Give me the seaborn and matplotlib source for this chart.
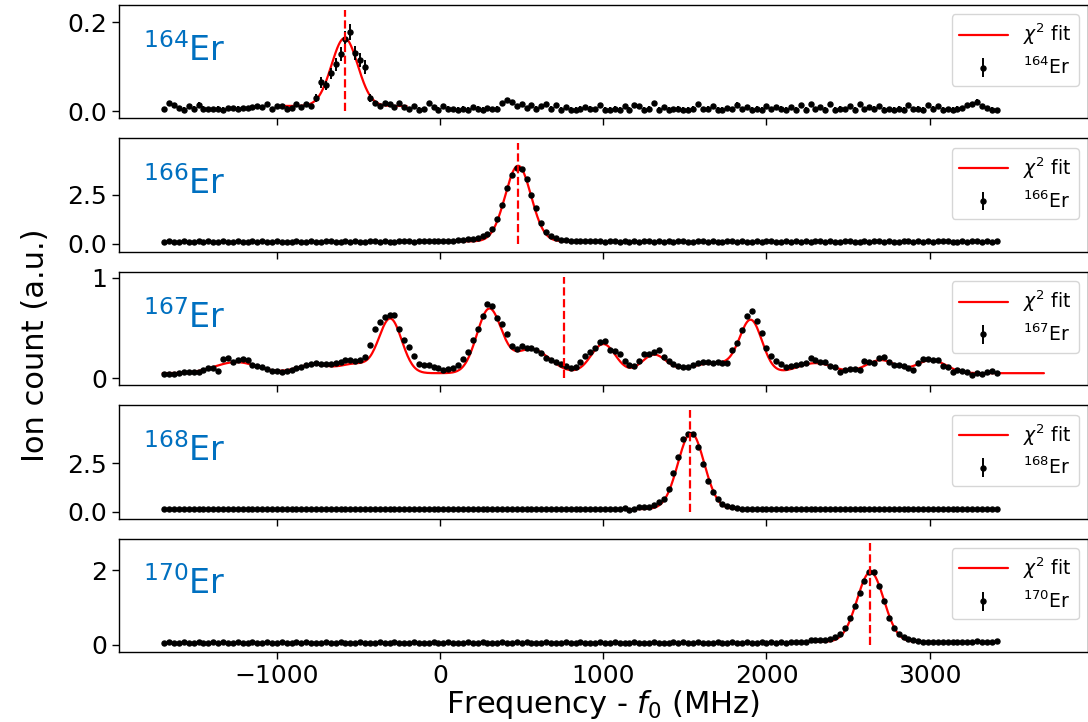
import numpy as np
import pandas as pd
import matplotlib
matplotlib.use("Agg")
import matplotlib.pyplot as plt
import seaborn as sns

# ---------------- data ----------------
# frequency scan: first point, step (MHz), number of points
freq_start, freq_step, n_points = -1690, 30, 171

isotopes = ["164", "166", "167", "168", "170"]

counts_164 = [
    0.005, 0.018, 0.014, 0.008, 0.004, 0.012, 0.006, 0.015, 0.006, 0.005,
    0.005, 0.006, 0.004, 0.008, 0.007, 0.006, 0.007, 0.007, 0.009, 0.012,
    0.010, 0.016, 0.005, 0.012, 0.012, 0.006, 0.008, 0.017, 0.010, 0.016,
    0.012, 0.030, 0.065, 0.058, 0.085, 0.105, 0.128, 0.163, 0.178, 0.130,
    0.115, 0.100, 0.030, 0.018, 0.012, 0.018, 0.017, 0.010, 0.018, 0.010,
    0.005, 0.012, 0.004, 0.005, 0.018, 0.010, 0.004, 0.012, 0.006, 0.005,
    0.004, 0.006, 0.004, 0.010, 0.006, 0.004, 0.008, 0.005, 0.006, 0.018,
    0.025, 0.020, 0.012, 0.016, 0.008, 0.014, 0.006, 0.012, 0.016, 0.006,
    0.014, 0.004, 0.010, 0.004, 0.004, 0.006, 0.010, 0.006, 0.005, 0.014,
    0.004, 0.004, 0.006, 0.004, 0.012, 0.004, 0.014, 0.012, 0.004, 0.006,
    0.018, 0.004, 0.010, 0.004, 0.005, 0.006, 0.004, 0.004, 0.006, 0.016,
    0.005, 0.006, 0.012, 0.004, 0.004, 0.008, 0.005, 0.015, 0.005, 0.010,
    0.004, 0.006, 0.004, 0.012, 0.005, 0.010, 0.006, 0.004, 0.010, 0.004,
    0.014, 0.004, 0.016, 0.005, 0.010, 0.004, 0.016, 0.004, 0.006, 0.005,
    0.012, 0.004, 0.016, 0.005, 0.010, 0.006, 0.012, 0.004, 0.005, 0.004,
    0.006, 0.004, 0.014, 0.005, 0.006, 0.004, 0.014, 0.006, 0.012, 0.004,
    0.005, 0.004, 0.006, 0.008, 0.014, 0.016, 0.022, 0.012, 0.008, 0.004,
    0.003,
]
err_164 = ([0.005] * 31
           + [0.008, 0.012, 0.010, 0.012, 0.014, 0.015, 0.018, 0.018, 0.016, 0.016, 0.016, 0.008]
           + [0.005] * 128)

counts_166 = [
    0.10, 0.12, 0.11, 0.10, 0.12, 0.11, 0.10, 0.12, 0.11, 0.12,
    0.10, 0.11, 0.12, 0.11, 0.10, 0.12, 0.11, 0.10, 0.12, 0.11,
    0.12, 0.10, 0.11, 0.12, 0.11, 0.10, 0.11, 0.12, 0.10, 0.11,
    0.12, 0.11, 0.10, 0.12, 0.13, 0.11, 0.10, 0.12, 0.11, 0.12,
    0.11, 0.10, 0.12, 0.13, 0.11, 0.12, 0.10, 0.11, 0.12, 0.13,
    0.12, 0.11, 0.13, 0.12, 0.14, 0.13, 0.12, 0.15, 0.14, 0.16,
    0.18, 0.19, 0.22, 0.25, 0.30, 0.42, 0.48, 0.75, 1.28, 1.95,
    2.85, 3.50, 3.85, 3.78, 3.30, 2.50, 1.80, 1.05, 0.62, 0.38,
    0.28, 0.20, 0.17, 0.15, 0.16, 0.14, 0.13, 0.12, 0.13, 0.12,
    0.11, 0.12, 0.13, 0.11, 0.12, 0.10, 0.12, 0.11, 0.13, 0.12,
    0.11, 0.12, 0.10, 0.12, 0.11, 0.13, 0.12, 0.11, 0.10, 0.12,
    0.12, 0.11, 0.12, 0.10, 0.11, 0.12, 0.13, 0.11, 0.12, 0.10,
    0.11, 0.12, 0.11, 0.13, 0.12, 0.10, 0.11, 0.12, 0.11, 0.12,
    0.10, 0.12, 0.11, 0.12, 0.13, 0.11, 0.12, 0.10, 0.11, 0.12,
    0.12, 0.11, 0.10, 0.12, 0.11, 0.13, 0.12, 0.11, 0.12, 0.10,
    0.11, 0.12, 0.13, 0.11, 0.12, 0.10, 0.12, 0.11, 0.12, 0.13,
    0.12, 0.11, 0.10, 0.12, 0.11, 0.12, 0.13, 0.11, 0.12, 0.11,
    0.14,
]
err_166 = [0.04] * 171

counts_167 = [
    0.040, 0.042, 0.045, 0.050, 0.060, 0.063, 0.060, 0.065, 0.080, 0.100,
    0.100, 0.070, 0.190, 0.200, 0.160, 0.180, 0.190, 0.180, 0.130, 0.120,
    0.110, 0.087, 0.075, 0.068, 0.065, 0.072, 0.085, 0.100, 0.115, 0.135,
    0.140, 0.147, 0.140, 0.137, 0.145, 0.150, 0.160, 0.180, 0.185, 0.170,
    0.180, 0.210, 0.330, 0.490, 0.560, 0.610, 0.630, 0.630, 0.490, 0.380,
    0.310, 0.220, 0.140, 0.135, 0.130, 0.115, 0.100, 0.080, 0.090, 0.097,
    0.130, 0.190, 0.260, 0.380, 0.490, 0.620, 0.740, 0.720, 0.600, 0.540,
    0.440, 0.320, 0.290, 0.320, 0.300, 0.300, 0.285, 0.250, 0.200, 0.180,
    0.160, 0.140, 0.120, 0.100, 0.110, 0.160, 0.220, 0.260, 0.300, 0.360,
    0.370, 0.280, 0.270, 0.240, 0.170, 0.130, 0.120, 0.170, 0.240, 0.240,
    0.260, 0.280, 0.210, 0.170, 0.140, 0.120, 0.113, 0.113, 0.130, 0.150,
    0.165, 0.160, 0.147, 0.160, 0.155, 0.150, 0.280, 0.350, 0.480, 0.620,
    0.670, 0.570, 0.450, 0.300, 0.220, 0.170, 0.140, 0.115, 0.120, 0.130,
    0.140, 0.147, 0.200, 0.180, 0.165, 0.160, 0.120, 0.110, 0.060, 0.085,
    0.095, 0.090, 0.080, 0.170, 0.160, 0.150, 0.200, 0.210, 0.160, 0.135,
    0.130, 0.125, 0.100, 0.080, 0.155, 0.195, 0.190, 0.180, 0.180, 0.120,
    0.110, 0.060, 0.080, 0.070, 0.060, 0.035, 0.055, 0.045, 0.060, 0.070,
    0.047,
]
err_167 = [0.02] * 171

counts_168 = [
    0.12, 0.13, 0.14, 0.12, 0.13, 0.12, 0.14, 0.13, 0.12, 0.13,
    0.14, 0.12, 0.13, 0.12, 0.14, 0.13, 0.12, 0.13, 0.14, 0.12,
    0.13, 0.12, 0.13, 0.14, 0.12, 0.13, 0.12, 0.14, 0.13, 0.12,
    0.13, 0.14, 0.12, 0.13, 0.12, 0.13, 0.14, 0.12, 0.13, 0.12,
    0.14, 0.13, 0.12, 0.13, 0.14, 0.12, 0.13, 0.12, 0.13, 0.14,
    0.12, 0.13, 0.12, 0.14, 0.13, 0.12, 0.13, 0.14, 0.12, 0.13,
    0.12, 0.13, 0.14, 0.12, 0.13, 0.12, 0.14, 0.13, 0.12, 0.13,
    0.14, 0.12, 0.13, 0.12, 0.13, 0.14, 0.12, 0.13, 0.12, 0.14,
    0.13, 0.12, 0.13, 0.14, 0.12, 0.13, 0.12, 0.13, 0.14, 0.12,
    0.13, 0.12, 0.14, 0.13, 0.18, 0.10, 0.16, 0.25, 0.22, 0.22,
    0.37, 0.52, 0.68, 1.20, 2.00, 2.85, 3.75, 4.05, 4.05, 3.35,
    2.45, 1.60, 1.02, 0.68, 0.42, 0.27, 0.22, 0.19, 0.15, 0.13,
    0.14, 0.12, 0.13, 0.12, 0.14, 0.13, 0.12, 0.13, 0.12, 0.14,
    0.13, 0.12, 0.13, 0.14, 0.12, 0.13, 0.12, 0.13, 0.14, 0.12,
    0.13, 0.12, 0.14, 0.13, 0.12, 0.13, 0.14, 0.12, 0.13, 0.12,
    0.13, 0.14, 0.12, 0.13, 0.12, 0.13, 0.14, 0.12, 0.13, 0.12,
    0.14, 0.13, 0.12, 0.13, 0.12, 0.14, 0.13, 0.12, 0.13, 0.12,
    0.13,
]
err_168 = [0.04] * 171

counts_170 = [
    0.06, 0.07, 0.05, 0.06, 0.08, 0.05, 0.06, 0.07, 0.06, 0.05,
    0.07, 0.06, 0.08, 0.06, 0.05, 0.07, 0.06, 0.06, 0.08, 0.05,
    0.06, 0.07, 0.05, 0.06, 0.07, 0.06, 0.05, 0.07, 0.06, 0.08,
    0.06, 0.05, 0.06, 0.07, 0.06, 0.05, 0.07, 0.06, 0.06, 0.05,
    0.07, 0.06, 0.05, 0.06, 0.08, 0.06, 0.05, 0.07, 0.06, 0.05,
    0.06, 0.07, 0.06, 0.05, 0.06, 0.07, 0.05, 0.06, 0.08, 0.06,
    0.05, 0.06, 0.07, 0.06, 0.05, 0.07, 0.06, 0.05, 0.06, 0.07,
    0.06, 0.05, 0.07, 0.06, 0.08, 0.06, 0.05, 0.06, 0.07, 0.06,
    0.05, 0.06, 0.07, 0.05, 0.06, 0.07, 0.06, 0.05, 0.06, 0.07,
    0.06, 0.05, 0.07, 0.06, 0.06, 0.05, 0.07, 0.06, 0.05, 0.06,
    0.07, 0.06, 0.05, 0.06, 0.07, 0.06, 0.08, 0.06, 0.05, 0.07,
    0.06, 0.05, 0.06, 0.07, 0.06, 0.05, 0.07, 0.06, 0.06, 0.07,
    0.05, 0.06, 0.07, 0.06, 0.08, 0.06, 0.07, 0.06, 0.07, 0.08,
    0.08, 0.09, 0.12, 0.13, 0.13, 0.14, 0.15, 0.20, 0.28, 0.45,
    0.72, 1.05, 1.38, 1.70, 1.95, 1.96, 1.58, 1.17, 0.71, 0.46,
    0.30, 0.20, 0.15, 0.12, 0.10, 0.08, 0.08, 0.09, 0.07, 0.08,
    0.08, 0.07, 0.09, 0.08, 0.07, 0.08, 0.10, 0.07, 0.09, 0.08,
    0.10,
]
err_170 = [0.04] * 171

# chi^2 fit results (Gaussian peaks on a flat offset)
fit_offset = [0.012, 0.12, 0.05, 0.13, 0.08]
fit_range = [(-965, -205), (98, 858), (-1700, 3700), (1158, 1918), (2257, 3017)]
peak_centers = [[-585], [478],
                [-1250, -780, -520, -305, 300, 560, 1000, 1310, 1680, 1905, 2300, 2700, 3010],
                [1538], [2637]]
peak_amps = [[0.152], [3.85],
             [0.11, 0.085, 0.09, 0.54, 0.63, 0.24, 0.29, 0.18, 0.10, 0.50, 0.10, 0.13, 0.13],
             [3.95], [1.87]]
peak_sigmas = [[80], [79],
               [130, 100, 90, 70, 75, 110, 75, 75, 150, 68, 110, 90, 90],
               [80], [82]]

# reference (dashed) line per isotope: position and height
ref_pos = [-581, 477, 758, 1529, 2636]
ref_top = [0.227, 5.15, 1.01, 5.26, 2.72]

y_limits = [(-0.016, 0.238), (-0.41, 5.36), (-0.07, 1.06), (-0.36, 5.52), (-0.19, 2.85)]
y_ticks = [[0.0, 0.2], [0.0, 2.5], [0, 1], [0.0, 2.5], [0, 2]]
x_limits = (-1970, 3970)
x_ticks = [-1000, 0, 1000, 2000, 3000]

all_counts = [counts_164, counts_166, counts_167, counts_168, counts_170]
all_err = [err_164, err_166, err_167, err_168, err_170]

# ---------------- plotting ----------------
sns.set_style("ticks")
plt.rcParams["font.family"] = ["DejaVu Sans"]
plt.rcParams["axes.edgecolor"] = "black"
plt.rcParams["text.color"] = "black"
plt.rcParams["xtick.color"] = "black"
plt.rcParams["ytick.color"] = "black"
plt.rcParams["axes.labelcolor"] = "black"

fig, axes = plt.subplots(5, 1, sharex=True, figsize=(10.88, 7.22), dpi=100,
                         gridspec_kw=dict(hspace=0.176))
fig.subplots_adjust(left=0.109, right=1.0, top=0.993, bottom=0.097)

freq = freq_start + freq_step * np.arange(n_points)
label_blue = "#0070C0"

for i, ax in enumerate(axes):
    iso = isotopes[i]
    df = pd.DataFrame({"freq": freq, "counts": all_counts[i], "err": all_err[i]})

    lo, hi = fit_range[i]
    fx = np.linspace(lo, hi, 800)
    fy = np.full_like(fx, fit_offset[i], dtype=float)
    for c, a, s in zip(peak_centers[i], peak_amps[i], peak_sigmas[i]):
        fy = fy + a * np.exp(-(fx - c) ** 2 / (2 * s ** 2))
    fit_df = pd.DataFrame({"freq": fx, "fit": fy})

    sns.lineplot(data=fit_df, x="freq", y="fit", ax=ax, color="red", lw=1.6,
                 label=r"$\chi^2$ fit", zorder=2)
    ax.errorbar(df["freq"], df["counts"], yerr=df["err"], fmt="o", color="black",
                ms=3.6, elinewidth=1.4, capsize=0, zorder=3,
                label=r"$^{%s}$Er" % iso)
    ax.vlines(ref_pos[i], 0, ref_top[i], colors="red", linestyles="--", lw=1.6, zorder=4)

    ax.set_xlim(*x_limits)
    ax.set_ylim(*y_limits[i])
    ax.set_yticks(y_ticks[i])
    ax.set_xticks(x_ticks)
    ax.set_xlabel("")
    ax.set_ylabel("")
    ax.tick_params(axis="both", labelsize=18, length=5, width=1, direction="out",
                   colors="black")
    for sp in ax.spines.values():
        sp.set_visible(True)
        sp.set_linewidth(1.0)
        sp.set_color("black")

    ax.text(0.025, 0.6, r"$^{%s}$Er" % iso, transform=ax.transAxes,
            fontsize=24, color=label_blue, va="center", ha="left")

    handles, labels = ax.get_legend_handles_labels()
    order = [labels.index(r"$\chi^2$ fit"), labels.index(r"$^{%s}$Er" % iso)]
    ax.legend([handles[j] for j in order], [labels[j] for j in order],
              loc="upper right", fontsize=13.5, frameon=True, handlelength=2.6)

axes[-1].set_xlabel("Frequency - $f_0$ (MHz)", fontsize=22, labelpad=0)
fig.text(0.033, 0.522, "Ion count (a.u.)", rotation=90, fontsize=22,
         ha="center", va="center")

fig.savefig("out.png", dpi=100)
